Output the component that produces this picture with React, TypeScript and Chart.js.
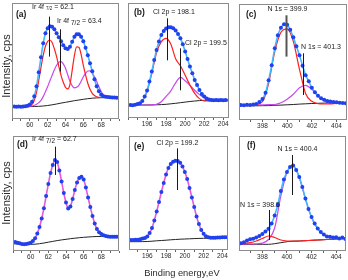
import React, { useEffect, useRef } from 'react';
import { Chart, registerables } from 'chart.js';

Chart.register(...registerables);

// ---------------- data ----------------
// Ir 4f region energies (eV) for measured points
const IR_ENERGY = [58.25, 58.5, 58.75, 59, 59.25, 59.5, 59.75, 60, 60.25, 60.5, 60.75, 61, 61.25, 61.5, 61.75, 62, 62.25, 62.5, 62.75, 63, 63.25, 63.5, 63.75, 64, 64.25, 64.5, 64.75, 65, 65.25, 65.5, 65.75, 66, 66.25, 66.5, 66.75, 67, 67.25, 67.5, 67.75, 68, 68.25, 68.5, 68.75, 69, 69.25, 69.5, 69.75];
const IR_FIT_ENERGY = [58, 58.5, 59, 59.5, 60, 60.5, 61, 61.5, 62, 62.5, 63, 63.5, 64, 64.5, 65, 65.5, 66, 66.5, 67, 67.5, 68, 68.5, 69, 69.5, 70];
const IR_TICKS = [60, 62, 64, 66, 68];

const CL_ENERGY = [194.25, 194.5, 194.75, 195, 195.25, 195.5, 195.75, 196, 196.25, 196.5, 196.75, 197, 197.25, 197.5, 197.75, 198, 198.25, 198.5, 198.75, 199, 199.25, 199.5, 199.75, 200, 200.25, 200.5, 200.75, 201, 201.25, 201.5, 201.75, 202, 202.25, 202.5, 202.75, 203, 203.25, 203.5, 203.75, 204, 204.25];
const CL_ENERGY_E = [194.25, 194.5, 194.75, 195, 195.25, 195.5, 195.75, 196, 196.25, 196.5, 196.75, 197, 197.25, 197.5, 197.75, 198, 198.25, 198.5, 198.75, 199, 199.25, 199.5, 199.75, 200, 200.25, 200.5, 200.75, 201, 201.25, 201.5, 201.75, 202, 202.25, 202.5, 202.75, 203, 203.25, 203.5, 203.75, 204, 204.25, 204.5];
const CL_FIT_ENERGY = [194, 194.5, 195, 195.5, 196, 196.5, 197, 197.5, 198, 198.5, 199, 199.5, 200, 200.5, 201, 201.5, 202, 202.5, 203, 203.5, 204, 204.5];
const CL_TICKS = [196, 198, 200, 202, 204];

const N_ENERGY = [396.25, 396.5, 396.75, 397, 397.25, 397.5, 397.75, 398, 398.25, 398.5, 398.75, 399, 399.25, 399.5, 399.75, 400, 400.25, 400.5, 400.75, 401, 401.25, 401.5, 401.75, 402, 402.25, 402.5, 402.75, 403, 403.25, 403.5, 403.75, 404, 404.25, 404.5, 404.75];
const N_FIT_ENERGY = [396, 396.5, 397, 397.5, 398, 398.5, 399, 399.5, 400, 400.5, 401, 401.5, 402, 402.5, 403, 403.5, 404, 404.5, 405];
const N_TICKS = [398, 400, 402, 404];

// (a) Ir 4f
const A_COUNTS = [10.7, 10.5, 10.8, 10.6, 10.8, 11.0, 11.5, 12.8, 15.5, 21, 31, 45, 60, 74, 84, 89, 91, 90.5, 88, 84, 80, 76, 72, 69, 68.3, 70.5, 75.5, 80.5, 83, 83, 80.5, 76, 69.5, 62, 54, 46, 38, 31, 26, 22.5, 21, 20.5, 20.2, 20, 19.8, 19.7, 19.6];
const A_RED = [10.7, 10.7, 10.7, 10.7, 10.7, 10.8, 11, 11.5, 13, 17, 25, 37, 50, 62, 71, 76, 77.3, 74.7, 68.5, 60.7, 51, 42, 35, 30, 28.5, 33, 47, 62, 70.5, 70, 63, 52, 42.5, 34, 28, 24, 21.8, 20.5, 20, 19.8, 19.8, 19.8, 19.8, 19.8, 19.8, 19.8, 19.8];
const A_MAGENTA = [10.7, 10.7, 10.7, 10.7, 10.7, 10.8, 10.9, 11, 11.3, 12, 13, 14.7, 17, 20.7, 25.5, 30.7, 36.5, 42, 47.5, 52, 55, 55.7, 53.5, 49, 42.5, 36, 31.5, 29.5, 30, 32, 36, 40.5, 44, 46.3, 46.5, 44, 40.5, 35.7, 30.5, 25.7, 22.7, 20.7, 20, 19.8, 19.8, 19.8, 19.8];
const A_BG = [10.6, 10.6, 10.6, 10.6, 10.7, 10.8, 11, 11.3, 11.8, 12.5, 13.3, 14.2, 15, 15.8, 16.6, 17.3, 18, 18.6, 19.1, 19.4, 19.6, 19.7, 19.8, 19.8, 19.8];
const A_PEAKS = [62.1, 63.4];

// (b) Cl 2p
const B_COUNTS = [12.3, 12.0, 12.5, 13.3, 14, 16.3, 20.7, 26.7, 35.7, 45.7, 57.3, 67.3, 75.7, 82.3, 86.3, 88.7, 90, 90, 89, 86.7, 83.3, 79, 73, 65.7, 58.3, 50.7, 44, 37.3, 32.3, 27.3, 23.3, 20.7, 18.7, 17.7, 17.3, 17, 17.3, 17, 17.3, 17, 17.3];
const B_RED = [12.3, 12.3, 12.8, 16.3, 25.7, 44, 64.7, 75.7, 79, 73, 58.5, 51.5, 42, 32.3, 24, 18.7, 16.5, 16.3, 16.3, 16.5, 16.5, 16.5];
const B_MAGENTA = [12.3, 12.3, 12.3, 12.3, 12.3, 12.4, 13, 15.5, 21, 26.5, 34.5, 40, 36.5, 32, 27, 22.7, 19.5, 17.8, 17.3, 17.3, 17.3, 17.3];
const B_BG = [12.3, 12.3, 12.3, 12.3, 12.3, 12.4, 12.5, 12.7, 13, 13.5, 14, 14.6, 15.2, 15.8, 16.3, 16.7, 17, 17.2, 17.3, 17.3, 17.3, 17.3];
const B_PEAKS = [198.1, 199.5];

// (c) N 1s
const C_COUNTS = [12.3, 12.0, 12.5, 12.3, 12.7, 13.3, 15.3, 18.3, 24.5, 37, 52, 69, 82, 89.5, 93, 92.5, 87.5, 80, 71, 62, 51.5, 42, 36, 29.5, 25, 21.5, 19, 17.5, 16.3, 15.7, 15.3, 15, 14.5, 14.3, 14];
const C_RED = [12.3, 12.3, 12.4, 13, 15.7, 34, 66, 85, 88.5, 76, 48, 23.5, 16, 13.7, 13.3, 13.5, 14, 14.3, 14.3];
const C_MAGENTA = [12.3, 12.3, 12.3, 12.4, 12.5, 12.6, 12.8, 14.5, 18, 23, 29.5, 32, 28, 21.5, 16.5, 14.5, 14.3, 14.3, 14.3];
const C_BG = [11.5, 11.5, 11.5, 11.5, 11.6, 11.7, 12, 12.2, 12.5, 12.8, 13.2, 13.5, 13.8, 14, 14.2, 14.3, 14.3, 14.3, 14.3];
const C_PEAKS = [399.9, 401.3];

// (d) Ir 4f
const D_COUNTS = [9, 8.3, 7.7, 7, 6.8, 7, 7.5, 8.3, 10, 12.7, 17.5, 24, 32.5, 42.7, 55, 67, 78, 86, 91, 89, 80.5, 69.5, 58, 48.5, 42.5, 44.5, 52, 61, 68.5, 73, 74.3, 71.5, 63.5, 53.5, 44, 35, 27.5, 22, 18.8, 17, 15.8, 15, 14.6, 14.3, 14.3, 14.2, 14.2];
const D_BG = [7.3, 7.0, 6.8, 6.7, 6.7, 6.8, 7.3, 8, 8.8, 9.6, 10.4, 11.1, 11.7, 12.3, 12.8, 13.3, 13.7, 14, 14.3, 14.5, 14.6, 14.6, 14.5, 14.4, 14.4];
const D_PEAKS = [62.7];

// (e) Cl 2p
const E_COUNTS = [10, 10, 10.2, 10.3, 10.8, 11.5, 12, 13.5, 17, 22, 29.5, 38.5, 48, 58, 67, 75.5, 82, 86, 88.3, 89.2, 89, 87.3, 83.5, 78, 71, 62, 52.5, 43, 33.5, 26, 20, 16.3, 13.8, 12.7, 12.3, 12.3, 12.3, 12.5, 12.5, 12.7, 12.7, 12.7];
const E_BG = [8.3, 8.3, 8.3, 8.4, 8.5, 8.8, 9.2, 9.5, 9.8, 10.2, 10.5, 10.8, 11, 11.2, 11.4, 11.6, 11.7, 11.8, 11.8, 11.8, 11.8, 11.8];
const E_PEAKS = [199.2];

// (f) N 1s
const F_COUNTS = [7.7, 8.7, 10.5, 11.8, 12.3, 13.5, 15, 17, 19.5, 22.3, 27.5, 35.5, 46, 60, 71.5, 79, 84, 85.5, 81, 74, 64, 52.5, 42, 34, 27.5, 22.5, 19, 16.5, 14.5, 14.3, 13.5, 13.8, 12.5, 13.5, 12];
const F_MAGENTA = [7, 7, 7, 7.2, 7.8, 11.5, 23, 55, 78.5, 85, 73.5, 52, 33.5, 22, 16, 14, 13.3, 13, 13];
const F_RED = [7, 7.3, 8.3, 10, 12.5, 15, 13.5, 11, 10, 9.8, 10, 10.3, 10.7, 11, 11.3, 11.7, 12, 12.3, 12.5];
const F_BG = [6.7, 6.7, 6.7, 6.7, 6.7, 6.7, 7.3, 8.3, 9.3, 9.8, 10, 10.3, 10.7, 11, 11.3, 11.7, 12, 12.3, 12.5];
const F_PEAKS = [400.4, 398.5];

// ---------------- styling / layout ----------------
const FONT = '"Liberation Sans", Arial, Helvetica, sans-serif';
const DOT = '#2141ee';
const CYAN = '#3fb8ff';
const RED = '#ff1f1f';
const MAG = '#c848ec';
const PINK = '#e45ad8';
const BLACK = '#222222';
const PAD_X = 10;
const PAD_T = 6;
const AXIS_H = 14;

type Seg = { t: string; sub?: boolean };
type Label = { x: number; y: number; segs: Seg[]; bold?: boolean; size?: number; subSize?: number };
type Marker = { e: number; y0: number; y1: number; w?: number; color?: string };
type Curve = { e: number[]; v: number[]; color: string; width: number; order: number };
type Panel = {
  key: string;
  box: [number, number, number, number];
  xMin: number; xMax: number; yMin: number; yMax: number;
  ticks: number[];
  dotsE: number[]; dotsV: number[]; envColor: string;
  curves: Curve[]; markers: Marker[]; labels: Label[];
};

const irLbl = (v: string): Seg[] => [{ t: 'Ir 4f ' }, { t: '7/2', sub: true }, { t: ' = ' + v }];

const PANELS: Panel[] = [
  {
    key: 'a', box: [12, 3, 107, 116], xMin: 58, xMax: 70, yMin: -1.7, yMax: 114.3, ticks: IR_TICKS,
    dotsE: IR_ENERGY, dotsV: A_COUNTS, envColor: CYAN,
    curves: [
      { e: IR_ENERGY, v: A_RED, color: RED, width: 1.2, order: 2 },
      { e: IR_ENERGY, v: A_MAGENTA, color: MAG, width: 1.2, order: 3 },
      { e: IR_FIT_ENERGY, v: A_BG, color: BLACK, width: 1, order: 4 },
    ],
    markers: [
      { e: A_PEAKS[0], y0: 100.7, y1: 60.7 },
      { e: A_PEAKS[1], y0: 88, y1: 45.7 },
    ],
    labels: [
      { x: 16, y: 15, segs: [{ t: '(a)' }], bold: true, size: 8.5 },
      { x: 32, y: 7, segs: irLbl(String(A_PEAKS[0])), subSize: 4.5 },
      { x: 57, y: 21.5, segs: irLbl(String(A_PEAKS[1])), subSize: 6.5 },
    ],
  },
  {
    key: 'b', box: [128, 3, 101, 115], xMin: 194, xMax: 204.6, yMin: -0.7, yMax: 114.3, ticks: CL_TICKS,
    dotsE: CL_ENERGY, dotsV: B_COUNTS, envColor: CYAN,
    curves: [
      { e: CL_FIT_ENERGY, v: B_RED, color: RED, width: 1.2, order: 2 },
      { e: CL_FIT_ENERGY, v: B_MAGENTA, color: MAG, width: 1.2, order: 3 },
      { e: CL_FIT_ENERGY, v: B_BG, color: BLACK, width: 1, order: 4 },
    ],
    markers: [
      { e: B_PEAKS[0], y0: 99, y1: 57 },
      { e: B_PEAKS[1], y0: 69, y1: 27 },
    ],
    labels: [
      { x: 134, y: 13, segs: [{ t: '(b)' }], bold: true, size: 8.5 },
      { x: 153, y: 12.5, segs: [{ t: 'Cl 2p = ' + B_PEAKS[0] }] },
      { x: 185, y: 43, segs: [{ t: 'Cl 2p = ' + B_PEAKS[1] }] },
    ],
  },
  {
    key: 'c', box: [239, 4, 108, 116], xMin: 396.1, xMax: 404.85, yMin: -2.7, yMax: 113.3, ticks: N_TICKS,
    dotsE: N_ENERGY, dotsV: C_COUNTS, envColor: CYAN,
    curves: [
      { e: N_FIT_ENERGY, v: C_RED, color: RED, width: 1.2, order: 2 },
      { e: N_FIT_ENERGY, v: C_MAGENTA, color: MAG, width: 1.2, order: 3 },
      { e: N_FIT_ENERGY, v: C_BG, color: BLACK, width: 1, order: 4 },
    ],
    markers: [
      { e: C_PEAKS[0], y0: 102, y1: 60.7, w: 2, color: '#555' },
      { e: C_PEAKS[1], y0: 64, y1: 22.3 },
    ],
    labels: [
      { x: 246, y: 15, segs: [{ t: '(c)' }], bold: true, size: 8.5 },
      { x: 267.5, y: 9, segs: [{ t: 'N 1s = ' + C_PEAKS[0] }] },
      { x: 301, y: 47, segs: [{ t: 'N 1s = ' + C_PEAKS[1] }] },
    ],
  },
  {
    key: 'd', box: [13, 136, 106, 115], xMin: 58, xMax: 70, yMin: 0, yMax: 115, ticks: IR_TICKS,
    dotsE: IR_ENERGY, dotsV: D_COUNTS, envColor: PINK,
    curves: [
      { e: IR_FIT_ENERGY, v: D_BG, color: BLACK, width: 1, order: 4 },
    ],
    markers: [{ e: D_PEAKS[0], y0: 104.3, y1: 76 }],
    labels: [
      { x: 17, y: 145, segs: [{ t: '(d)' }], bold: true, size: 8.5 },
      { x: 32, y: 139.5, segs: irLbl(String(D_PEAKS[0])), subSize: 6.5 },
    ],
  },
  {
    key: 'e', box: [129, 136, 99, 114], xMin: 194.05, xMax: 204.6, yMin: 0, yMax: 114, ticks: CL_TICKS,
    dotsE: CL_ENERGY_E, dotsV: E_COUNTS, envColor: PINK,
    curves: [
      { e: CL_FIT_ENERGY, v: E_BG, color: BLACK, width: 1, order: 4 },
    ],
    markers: [{ e: E_PEAKS[0], y0: 101.7, y1: 60 }],
    labels: [
      { x: 134, y: 147, segs: [{ t: '(e)' }], bold: true, size: 8.5 },
      { x: 156.5, y: 143, segs: [{ t: 'Cl 2p = ' + E_PEAKS[0] }] },
    ],
  },
  {
    key: 'f', box: [239, 136, 107, 115], xMin: 396.1, xMax: 404.8, yMin: 0, yMax: 115, ticks: N_TICKS,
    dotsE: N_ENERGY, dotsV: F_COUNTS, envColor: CYAN,
    curves: [
      { e: N_FIT_ENERGY, v: F_MAGENTA, color: MAG, width: 1.2, order: 3 },
      { e: N_FIT_ENERGY, v: F_RED, color: RED, width: 1.2, order: 2 },
      { e: N_FIT_ENERGY, v: F_BG, color: BLACK, width: 1, order: 4 },
    ],
    markers: [
      { e: F_PEAKS[0], y0: 96, y1: 56 },
      { e: F_PEAKS[1], y0: 41, y1: 11 },
    ],
    labels: [
      { x: 247, y: 146, segs: [{ t: '(f)' }], bold: true, size: 8.5 },
      { x: 277.5, y: 149, segs: [{ t: 'N 1s = ' + F_PEAKS[0] }] },
      { x: 240, y: 205, segs: [{ t: 'N 1s = ' + F_PEAKS[1] }] },
    ],
  },
];

const pts = (e: number[], v: number[]) => e.map((x, i) => ({ x, y: v[i] }));

function makeDecor(p: Panel) {
  return {
    id: 'decor_' + p.key,
    afterDatasetsDraw(chart: any) {
      const { ctx, chartArea: ca, scales } = chart;
      ctx.save();
      for (const m of p.markers) {
        const x = Math.round(scales.x.getPixelForValue(m.e)) + 0.5;
        ctx.strokeStyle = m.color || '#1a1a1a';
        ctx.lineWidth = m.w || 1;
        ctx.beginPath();
        ctx.moveTo(x, scales.y.getPixelForValue(m.y0));
        ctx.lineTo(x, scales.y.getPixelForValue(m.y1));
        ctx.stroke();
      }
      ctx.strokeStyle = '#8c8c8c';
      ctx.lineWidth = 1;
      ctx.strokeRect(ca.left + 0.5, ca.top + 0.5, ca.width - 1, ca.height - 1);
      const ox = p.box[0] - PAD_X;
      const oy = p.box[1] - PAD_T;
      ctx.textAlign = 'left';
      ctx.textBaseline = 'middle';
      ctx.fillStyle = '#1a1a1a';
      for (const l of p.labels) {
        let x = l.x - ox;
        const y = l.y - oy;
        for (const s of l.segs) {
          const size = s.sub ? (l.subSize || 5.5) : (l.size || 7);
          ctx.font = `${l.bold ? 'bold ' : ''}${size}px ${FONT}`;
          ctx.fillText(s.t, x, s.sub ? y + 2 : y);
          x += ctx.measureText(s.t).width;
        }
      }
      ctx.restore();
    },
  };
}

function PanelChart({ p }: { p: Panel }) {
  const ref = useRef<HTMLCanvasElement>(null);
  const [bx, by, bw, bh] = p.box;
  const cw = bw + PAD_X * 2;
  const ch = PAD_T + bh + AXIS_H;
  useEffect(() => {
    if (!ref.current) return;
    const datasets: any[] = [
      {
        data: pts(p.dotsE, p.dotsV), showLine: false, pointRadius: 2, pointBackgroundColor: DOT,
        pointBorderWidth: 0, order: 0,
      },
      {
        data: pts(p.dotsE, p.dotsV), borderColor: p.envColor, borderWidth: 1.6, pointRadius: 0,
        cubicInterpolationMode: 'monotone', order: 1,
      },
      ...p.curves.map((c) => ({
        data: pts(c.e, c.v), borderColor: c.color, borderWidth: c.width, pointRadius: 0,
        cubicInterpolationMode: 'monotone', order: c.order,
      })),
    ];
    const chart = new Chart(ref.current, {
      type: 'line',
      data: { datasets },
      plugins: [makeDecor(p)],
      options: {
        animation: false,
        responsive: false,
        devicePixelRatio: 1,
        events: [],
        layout: { padding: { left: PAD_X, right: PAD_X, top: PAD_T, bottom: 0 } },
        plugins: { legend: { display: false }, tooltip: { enabled: false } },
        scales: {
          x: {
            type: 'linear',
            min: p.xMin,
            max: p.xMax,
            afterFit: (s: any) => { s.height = AXIS_H; },
            border: { display: false },
            grid: { drawOnChartArea: false, drawTicks: true, tickLength: 2, color: '#666', lineWidth: 1 },
            ticks: {
              stepSize: 1,
              autoSkip: false,
              maxRotation: 0,
              includeBounds: false,
              padding: 0,
              color: '#2a2a2a',
              font: { family: FONT, size: 6.5 },
              callback: (v: any) => (p.ticks.some((t) => Math.abs(t - Number(v)) < 1e-6) ? String(Math.round(Number(v))) : ''),
            },
          },
          y: { type: 'linear', display: false, min: p.yMin, max: p.yMax },
        },
      } as any,
    });
    return () => chart.destroy();
  }, []);
  return (
    <canvas
      ref={ref}
      width={cw}
      height={ch}
      style={{ position: 'absolute', left: bx - PAD_X, top: by - PAD_T, width: cw, height: ch, display: 'block' }}
    />
  );
}

export default function App() {
  const yLab: React.CSSProperties = {
    position: 'absolute', width: 90, height: 12, lineHeight: '12px', textAlign: 'center',
    fontFamily: FONT, fontSize: 11, color: '#2a2a2a', transform: 'rotate(-90deg)', whiteSpace: 'nowrap',
  };
  return (
    <div style={{ position: 'absolute', left: 0, top: 0, width: 348, height: 280, background: '#fff', overflow: 'hidden' }}>
      {PANELS.map((p) => <PanelChart key={p.key} p={p} />)}
      <div style={{ ...yLab, left: 6 - 45, top: 66 - 6 }}>Intensity, cps</div>
      <div style={{ ...yLab, left: 6 - 45, top: 193 - 6 }}>Intensity, cps</div>
      <div style={{
        position: 'absolute', left: 122, top: 267, width: 120, height: 12, lineHeight: '12px', textAlign: 'center',
        fontFamily: FONT, fontSize: 9.3, color: '#2a2a2a', whiteSpace: 'nowrap',
      }}>Binding energy,eV</div>
    </div>
  );
}
